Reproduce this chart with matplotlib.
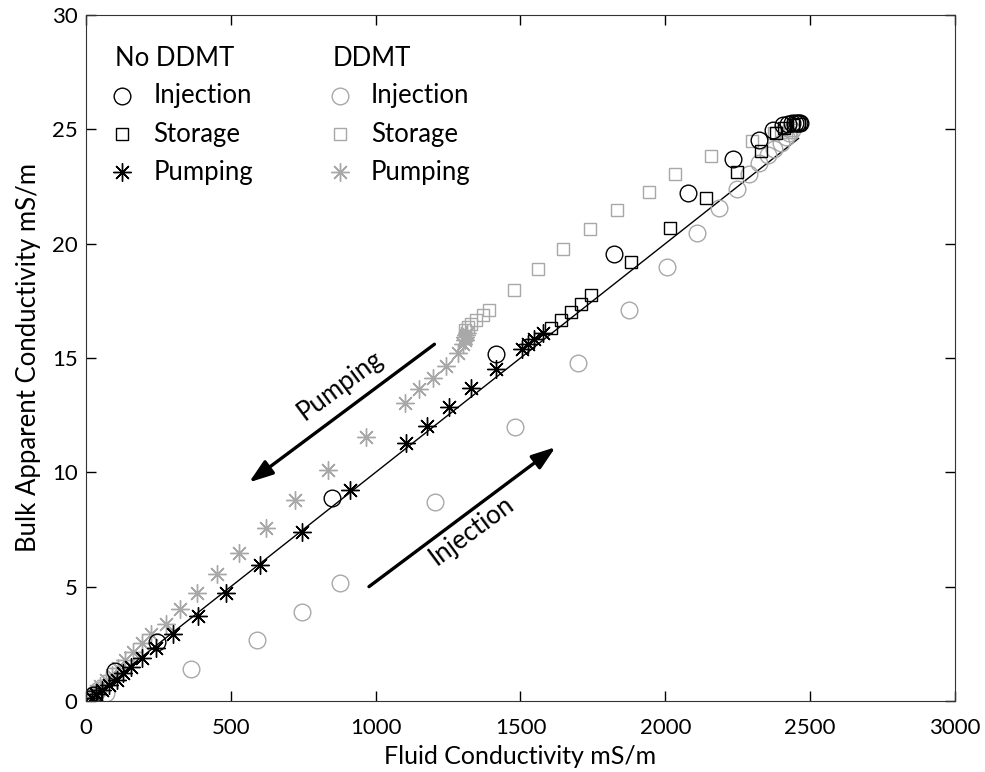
import numpy as np
import matplotlib
matplotlib.use("Agg")
import matplotlib.pyplot as plt

plt.rcParams['font.family'] = ['Lato', 'DejaVu Sans']

# no DDMT run
inj_x = [10, 25, 100, 244, 848, 1416, 1824, 2077, 2232, 2322, 2372, 2405, 2425, 2438, 2448, 2456, 2462, 2466]
inj_y = [0.10, 0.26, 1.30, 2.56, 8.88, 15.17, 19.55, 22.23, 23.68, 24.53, 24.97, 25.20, 25.24, 25.26, 25.27, 25.28, 25.28, 25.28]
sto_x = [2460, 2440, 2410, 2382, 2332, 2247, 2140, 2016, 1882, 1744, 1709, 1675, 1640, 1606]
sto_y = [25.25, 25.20, 25.05, 24.82, 24.05, 23.14, 22.01, 20.67, 19.21, 17.75, 17.38, 17.02, 16.66, 16.29]
pump_x = [1577, 1548, 1525, 1506, 1416, 1330, 1253, 1177, 1106, 910, 745, 602, 482, 387, 301,
          241, 195, 157, 129, 106, 80, 55, 35, 20]
pump_y = [16.10, 15.83, 15.59, 15.39, 14.52, 13.67, 12.84, 12.04, 11.27, 9.23, 7.40, 5.95, 4.74, 3.73, 2.92,
          2.30, 1.86, 1.50, 1.21, 0.92, 0.70, 0.48, 0.30, 0.15]

# DDMT run
d_inj_x = [8, 12, 18, 25, 30, 40, 69, 364, 589, 747, 876, 1206, 1482, 1700, 1874, 2006, 2109, 2186,
           2246, 2290, 2322, 2353, 2376, 2399, 2416, 2428, 2436]
d_inj_y = [0.05, 0.10, 0.15, 0.20, 0.35, 0.50, 0.34, 1.39, 2.67, 3.91, 5.14, 8.72, 12.00, 14.79, 17.10, 18.96, 20.45, 21.57,
           22.41, 23.04, 23.51, 23.87, 24.16, 24.38, 24.67, 24.85, 24.95]
d_sto_x = [2430, 2415, 2400, 2376, 2301, 2157, 2034, 1945, 1834, 1741, 1648, 1560, 1476, 1393, 1370, 1347, 1330, 1319, 1310]
d_sto_y = [24.95, 24.90, 24.88, 24.85, 24.49, 23.83, 23.04, 22.27, 21.47, 20.64, 19.75, 18.87, 17.98, 17.10, 16.88, 16.66, 16.48, 16.34, 16.22]
d_pump_x = [1316, 1313, 1310, 1307, 1300, 1284, 1244, 1198, 1149, 1103, 966, 836, 721, 620, 529, 451, 384, 324,
            275, 226, 192, 163, 134, 111, 90, 70, 50, 35]
d_pump_y = [16.10, 16.00, 15.90, 15.78, 15.60, 15.20, 14.65, 14.14, 13.63, 13.05, 11.53, 10.10, 8.79, 7.58, 6.45, 5.55, 4.74, 4.01,
            3.37, 2.92, 2.52, 2.16, 1.79, 1.43, 1.15, 0.90, 0.65, 0.45]

# linear fit through origin
fit_slope = 0.01
fit_x = np.array([0, 2460])

gray = '#a8a8a8'
star = (8, 2, 0)

fig = plt.figure(figsize=(9.85, 7.72), dpi=100)
ax = fig.add_axes([0.0873, 0.092, 0.8822, 0.8886])

ax.plot(fit_x, fit_slope * fit_x, color='black', lw=1.0, zorder=1)

mkw = dict(ls='none', mfc='none', mew=1.0)
ax.plot(d_inj_x, d_inj_y, marker='o', ms=12, mec=gray, **mkw)
ax.plot(d_sto_x, d_sto_y, marker='s', ms=9, mec=gray, **mkw)
ax.plot(d_pump_x, d_pump_y, marker=star, ms=13, mec=gray, **mkw)
ax.plot(inj_x, inj_y, marker='o', ms=12, mec='black', **mkw)
ax.plot(sto_x, sto_y, marker='s', ms=9, mec='black', **mkw)
ax.plot(pump_x, pump_y, marker=star, ms=13, mec='black', **mkw)

# arrows showing the direction of each phase
akw = dict(arrowstyle='-|>,head_length=0.72,head_width=0.25', lw=2.4, color='black',
           mutation_scale=20, shrinkA=0, shrinkB=0)
ax.annotate('', xy=(563, 9.56), xytext=(1203, 15.6), arrowprops=akw)
ax.annotate('', xy=(1621, 11.1), xytext=(977, 5.0), arrowprops=akw)
ax.text(876, 13.8, 'Pumping', rotation=36.6, ha='center', va='center', fontsize=18.5)
ax.text(1331, 7.45, 'Injection', rotation=36.6, ha='center', va='center', fontsize=18.5)

# two-column legend drawn by hand
legend_labels = ['Injection', 'Storage', 'Pumping']
legend_markers = [('o', 12), ('s', 9), (star, 13)]
rows = [0.882, 0.826, 0.771]
for col_x, head, color in [(0.0334, 'No DDMT', 'black'), (0.284, 'DDMT', gray)]:
    ax.text(col_x, 0.937, head, transform=ax.transAxes, ha='left', va='center', fontsize=18.5)
    for (m, ms), lab, ry in zip(legend_markers, legend_labels, rows):
        ax.plot([col_x + 0.008], [ry], transform=ax.transAxes, marker=m, ms=ms, mec=color,
                ls='none', mfc='none', mew=1.0, clip_on=False)
        ax.text(col_x + 0.044, ry, lab, transform=ax.transAxes, ha='left', va='center', fontsize=18.5)

ax.set_xlim(0, 3000)
ax.set_ylim(0, 30)
ax.set_xticks([0, 500, 1000, 1500, 2000, 2500, 3000])
ax.set_yticks([0, 5, 10, 15, 20, 25, 30])
ax.tick_params(direction='in', top=True, right=True, length=7, width=1, labelsize=16, pad=6)
ax.tick_params(axis='x', pad=12)
for s in ax.spines.values():
    s.set_color('#333333')
ax.set_xlabel('Fluid Conductivity mS/m', fontsize=18, labelpad=5)
ax.set_ylabel('Bulk Apparent Conductivity mS/m', fontsize=18.5, labelpad=8)

fig.savefig('out.png', dpi=100)
